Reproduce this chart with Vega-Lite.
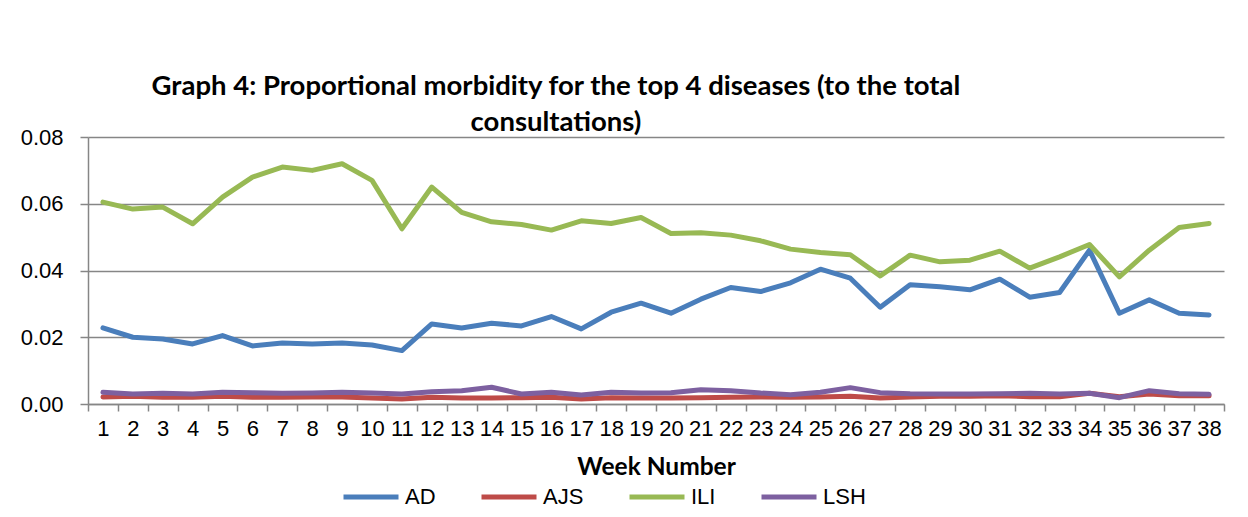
{
  "$schema": "https://vega.github.io/schema/vega-lite/v6.json",
  "autosize": {"type": "none"},
  "padding": {"left": 88, "top": 137, "right": 24, "bottom": 113},
  "width": 1136,
  "height": 267,
  "background": "white",
  "title": {
    "text": ["Graph 4: Proportional morbidity for the top 4 diseases (to the total", "consultations)"],
    "font": "Lato",
    "fontSize": 27.5,
    "fontWeight": "bold",
    "color": "black",
    "lineHeight": 36,
    "dx": -100,
    "offset": -10,
    "anchor": "middle"
  },
  "datasets": {
    "src": [
      {"week": 1, "AD": 0.0228, "AJS": 0.0021, "ILI": 0.0605, "LSH": 0.0035},
      {"week": 2, "AD": 0.0200, "AJS": 0.0023, "ILI": 0.0584, "LSH": 0.0030},
      {"week": 3, "AD": 0.0195, "AJS": 0.0020, "ILI": 0.0590, "LSH": 0.0032},
      {"week": 4, "AD": 0.0180, "AJS": 0.0020, "ILI": 0.0540, "LSH": 0.0030},
      {"week": 5, "AD": 0.0205, "AJS": 0.0023, "ILI": 0.0620, "LSH": 0.0035},
      {"week": 6, "AD": 0.0174, "AJS": 0.0020, "ILI": 0.0680, "LSH": 0.0034},
      {"week": 7, "AD": 0.0183, "AJS": 0.0020, "ILI": 0.0710, "LSH": 0.0032},
      {"week": 8, "AD": 0.0180, "AJS": 0.0021, "ILI": 0.0700, "LSH": 0.0033},
      {"week": 9, "AD": 0.0183, "AJS": 0.0021, "ILI": 0.0720, "LSH": 0.0035},
      {"week": 10, "AD": 0.0177, "AJS": 0.0018, "ILI": 0.0670, "LSH": 0.0033},
      {"week": 11, "AD": 0.0160, "AJS": 0.0015, "ILI": 0.0525, "LSH": 0.0030},
      {"week": 12, "AD": 0.0240, "AJS": 0.0020, "ILI": 0.0650, "LSH": 0.0037},
      {"week": 13, "AD": 0.0228, "AJS": 0.0018, "ILI": 0.0574, "LSH": 0.0040},
      {"week": 14, "AD": 0.0242, "AJS": 0.0018, "ILI": 0.0546, "LSH": 0.0050},
      {"week": 15, "AD": 0.0234, "AJS": 0.0019, "ILI": 0.0538, "LSH": 0.0030},
      {"week": 16, "AD": 0.0262, "AJS": 0.0020, "ILI": 0.0521, "LSH": 0.0035},
      {"week": 17, "AD": 0.0225, "AJS": 0.0015, "ILI": 0.0549, "LSH": 0.0027},
      {"week": 18, "AD": 0.0275, "AJS": 0.0019, "ILI": 0.0541, "LSH": 0.0035},
      {"week": 19, "AD": 0.0302, "AJS": 0.0018, "ILI": 0.0559, "LSH": 0.0033},
      {"week": 20, "AD": 0.0272, "AJS": 0.0018, "ILI": 0.0511, "LSH": 0.0034},
      {"week": 21, "AD": 0.0314, "AJS": 0.0019, "ILI": 0.0513, "LSH": 0.0043},
      {"week": 22, "AD": 0.0349, "AJS": 0.0020, "ILI": 0.0506, "LSH": 0.0040},
      {"week": 23, "AD": 0.0337, "AJS": 0.0021, "ILI": 0.0489, "LSH": 0.0033},
      {"week": 24, "AD": 0.0363, "AJS": 0.0020, "ILI": 0.0464, "LSH": 0.0028},
      {"week": 25, "AD": 0.0404, "AJS": 0.0021, "ILI": 0.0454, "LSH": 0.0035},
      {"week": 26, "AD": 0.0377, "AJS": 0.0023, "ILI": 0.0447, "LSH": 0.0049},
      {"week": 27, "AD": 0.0290, "AJS": 0.0018, "ILI": 0.0384, "LSH": 0.0034},
      {"week": 28, "AD": 0.0357, "AJS": 0.0021, "ILI": 0.0446, "LSH": 0.0031},
      {"week": 29, "AD": 0.0351, "AJS": 0.0023, "ILI": 0.0426, "LSH": 0.0030},
      {"week": 30, "AD": 0.0342, "AJS": 0.0023, "ILI": 0.0431, "LSH": 0.0030},
      {"week": 31, "AD": 0.0374, "AJS": 0.0025, "ILI": 0.0458, "LSH": 0.0031},
      {"week": 32, "AD": 0.0320, "AJS": 0.0022, "ILI": 0.0407, "LSH": 0.0032},
      {"week": 33, "AD": 0.0334, "AJS": 0.0022, "ILI": 0.0441, "LSH": 0.0030},
      {"week": 34, "AD": 0.0461, "AJS": 0.0032, "ILI": 0.0478, "LSH": 0.0032},
      {"week": 35, "AD": 0.0272, "AJS": 0.0022, "ILI": 0.0381, "LSH": 0.0019},
      {"week": 36, "AD": 0.0312, "AJS": 0.0030, "ILI": 0.0461, "LSH": 0.0040},
      {"week": 37, "AD": 0.0272, "AJS": 0.0025, "ILI": 0.0529, "LSH": 0.0031},
      {"week": 38, "AD": 0.0267, "AJS": 0.0025, "ILI": 0.0541, "LSH": 0.0029}
    ]
  },
  "data": {"name": "src"},
  "transform": [
    {"fold": ["AD", "AJS", "ILI", "LSH"], "as": ["disease", "value"]}
  ],
  "mark": {"type": "line", "strokeWidth": 5, "strokeCap": "round", "strokeJoin": "round"},
  "encoding": {
    "x": {
      "field": "week",
      "type": "ordinal",
      "bandPosition": 0.5,
      "scale": {"type": "band", "paddingInner": 0, "paddingOuter": 0},
      "axis": {
        "title": "Week Number",
        "titleFont": "Lato",
        "titleFontSize": 24.5,
        "titleFontWeight": "bold",
        "titleColor": "black",
        "titlePadding": 16,
        "labelAngle": 0,
        "labelFont": "Liberation Sans",
        "labelFontSize": 22,
        "labelColor": "black",
        "labelPadding": 7,
        "tickBand": "extent",
        "tickSize": 7,
        "tickColor": "#868686",
        "tickWidth": 1.5,
        "domainColor": "#868686",
        "domainWidth": 1.5,
        "grid": false
      }
    },
    "y": {
      "field": "value",
      "type": "quantitative",
      "scale": {"domain": [0, 0.08], "nice": false},
      "axis": {
        "title": null,
        "values": [0, 0.02, 0.04, 0.06, 0.08],
        "format": ".2f",
        "labelFont": "Liberation Sans",
        "labelFontSize": 22,
        "labelColor": "black",
        "labelPadding": 17,
        "tickSize": 8,
        "tickColor": "#868686",
        "tickWidth": 1.5,
        "domainColor": "#868686",
        "domainWidth": 1.5,
        "grid": true,
        "gridColor": "#868686",
        "gridWidth": 1.5
      }
    },
    "color": {
      "field": "disease",
      "type": "nominal",
      "scale": {"domain": ["AD", "AJS", "ILI", "LSH"], "range": ["#4A7EBB", "#BE4B48", "#98B954", "#7D60A0"]},
      "legend": {
        "title": null,
        "orient": "none",
        "legendX": 253,
        "legendY": 330,
        "direction": "horizontal",
        "symbolType": "stroke",
        "symbolSize": 3025,
        "symbolStrokeWidth": 5,
        "labelFont": "Liberation Sans",
        "labelFontSize": 22,
        "labelColor": "black",
        "labelOffset": 4,
        "columnPadding": 35
      }
    }
  },
  "config": {"view": {"stroke": null}}
}
